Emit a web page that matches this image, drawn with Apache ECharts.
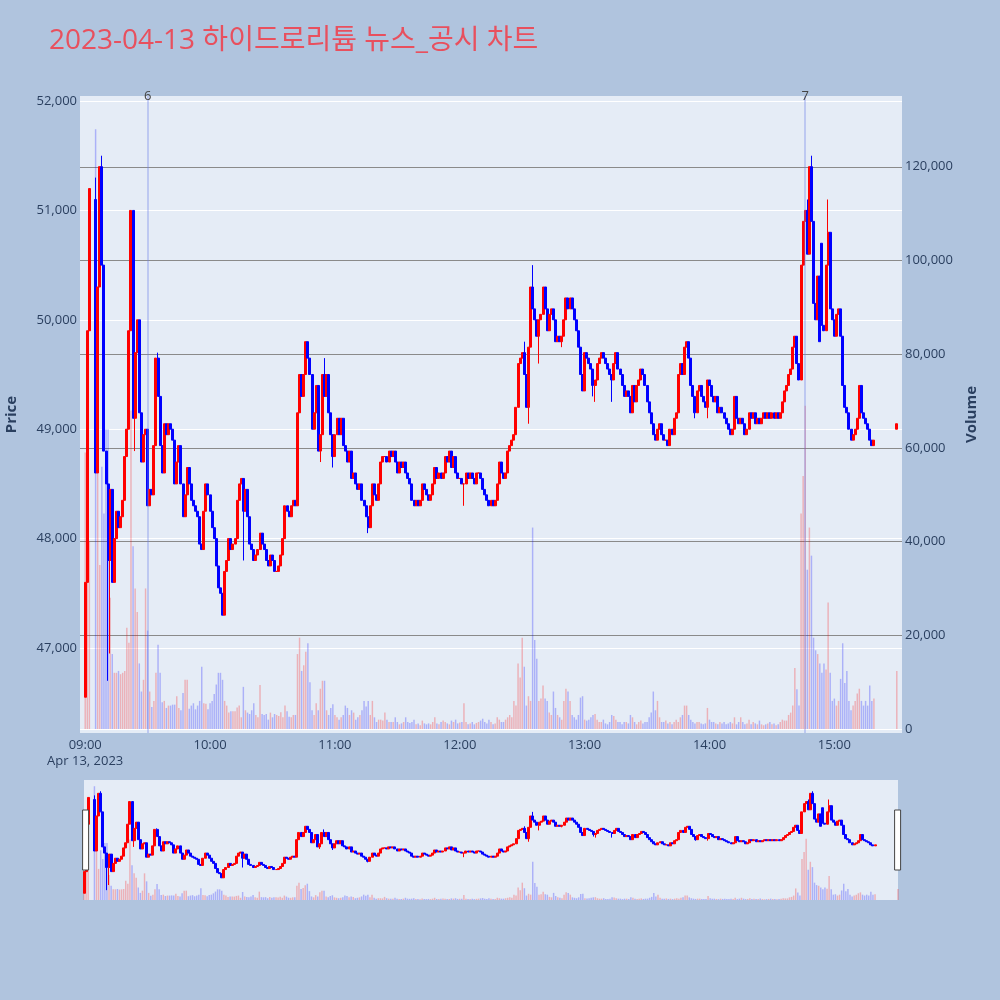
<!DOCTYPE html>
<html>
<head>
<meta charset="utf-8">
<script src="https://cdn.jsdelivr.net/npm/echarts@6/dist/echarts.min.js"></script>
<style>
html,body{margin:0;padding:0;background:#b0c4de;}
#chart{width:1000px;height:1000px;}
</style>
</head>
<body>
<div id="chart"></div>
<script>
// ---------------- DATA ----------------
const titleText = '2023-04-13 하이드로리튬 뉴스_공시 차트';
const dateLabel = 'Apr 13, 2023';
const hourLabels = ['09:00','10:00','11:00','12:00','13:00','14:00','15:00'];
const priceTicks = [47000,48000,49000,50000,51000,52000];
const volumeTicks = [0,20000,40000,60000,80000,100000,120000];
const newsTimes = ['09:30','14:46'];
const newsLabels = ['6','7'];
const sessionStart = '09:00';

// 1-minute closes from 09:00 (null = trading halt)
const closes = [
47600,49900,51200,null,null,48600,50300,51400,50500,48800,
48500,47800,48450,47600,48000,48250,48100,48200,48350,48750,
49000,49900,51000,49100,49700,50000,49150,48700,48950,49000,
48300,48450,48400,48850,49650,49300,48850,48600,49050,48950,
49050,49000,48900,48500,48700,48850,48500,48200,48400,48650,
48500,48350,48300,48250,48200,47950,47900,48250,48500,48400,
48250,48100,48000,47750,47550,47500,47300,47700,47800,48000,
47900,47950,48000,48350,48500,48550,48250,48450,48200,47950,
47900,47800,47850,47900,48050,47950,47900,47800,47750,47850,
47800,47700,47700,47750,47850,48000,48300,48250,48200,48300,
48350,48300,49150,49500,49300,49500,49800,49650,49500,49000,
49150,49400,48800,48950,49500,49300,49500,49150,48950,48750,
48950,49100,48950,49100,48850,48800,48700,48800,48550,48600,
48500,48450,48500,48350,48300,48200,48100,48300,48500,48400,
48350,48500,48700,48750,48750,48700,48800,48750,48800,48700,
48600,48700,48650,48700,48600,48550,48500,48350,48300,48350,
48300,48350,48500,48450,48400,48350,48400,48500,48650,48550,
48600,48550,48600,48750,48700,48800,48650,48750,48600,48550,
48550,48500,48500,48600,48550,48600,48550,48500,48600,48600,
48550,48450,48400,48350,48300,48350,48300,48350,48500,48700,
48600,48550,48600,48800,48850,48900,48950,49200,49600,49650,
49700,49500,49200,49750,50300,50100,50000,49850,50000,50050,
50300,50100,49900,50050,50100,50000,49800,49850,49800,49850,
50000,50200,50100,50200,50100,50000,49900,49750,49500,49350,
49700,49650,49600,49550,49400,49450,49600,49650,49700,49650,
49600,49550,49500,49450,49600,49700,49550,49500,49400,49300,
49350,49300,49150,49400,49250,49400,49450,49550,49500,49400,
49250,49150,49050,48950,48900,49000,49050,48950,48900,48900,
48850,49000,48950,49100,49150,49500,49600,49500,49750,49800,
49650,49400,49300,49150,49350,49400,49300,49250,49200,49450,
49400,49300,49250,49300,49150,49200,49150,49100,49050,49000,
48950,49000,49300,49100,49050,49100,49050,48950,49000,49150,
49100,49150,49050,49100,49050,49100,49150,49100,49150,49100,
49150,49100,49150,49100,49150,49250,49350,49400,49500,49550,
49750,49850,49600,49450,50500,50900,51000,50600,51400,50900,
50150,50000,50400,49800,49950,49900,50500,50800,50100,50000,
49850,50050,50100,49850,49400,49200,49150,49000,48900,48950,
49000,49100,49400,49150,49100,49050,49000,48900,48850,48900
];

// 1-minute volumes from 09:00
const volumes = [
59000,79000,40000,null,null,128000,79000,35000,56000,46000,
64000,64000,28000,16000,12000,12000,12400,11700,12000,12400,
21600,18400,68000,39000,30000,25000,14000,8000,10500,30000,
21000,8000,4700,6000,12000,18000,12000,5700,6000,4500,
5000,5000,5200,5200,7000,4500,4000,7700,10500,10500,
4300,5000,5500,4200,5000,6000,13300,5500,5400,4200,
5500,6000,7500,9500,12000,12000,10500,6000,5000,3500,
3800,3800,3800,4600,5000,2500,9000,4000,3500,3200,
4000,5500,3000,2500,9400,3200,3000,3200,2000,3500,
2500,3200,3000,2800,3600,2500,5000,3800,2600,2500,
3000,3000,16000,19500,12400,13600,16500,18300,10000,4000,
3000,5500,4000,8600,10300,10300,4000,3000,4500,5300,
3000,2500,2000,2500,3000,5000,4500,3000,4000,3500,
2000,2500,3000,4000,6000,4800,6000,3000,6000,2500,
1500,2000,2000,1800,3500,2000,1500,1500,1500,2500,
1500,1000,1200,1500,2500,1500,1300,1500,2000,1000,
1200,800,1800,1200,1000,1200,1000,1500,2500,1200,
1000,1500,1800,1500,1200,1000,1800,1500,2000,1200,
1400,1500,5500,1500,1000,1200,1500,1000,1300,1500,
1800,2200,1500,1200,2000,1500,1000,1200,2500,2000,
1500,1500,2000,2500,3000,2500,6000,5000,14000,11000,
19500,13300,5000,7000,6000,43000,19000,15000,6000,6500,
9300,6500,6000,3500,3000,8000,4500,3000,2500,2000,
6000,8600,8000,6000,3000,2500,2000,3000,6700,7000,
2000,1800,2000,2500,3000,3200,2000,1500,1500,2000,
1200,1000,1500,3000,2800,2000,1500,1500,1000,1500,
1500,1200,3000,2500,1500,1000,1500,1800,1200,1500,
1500,2500,3500,8000,4000,6000,2500,1500,1500,1800,
1200,1500,1000,1500,2000,1500,2500,3000,5000,5000,
3000,2000,1500,1200,1500,1500,1200,1000,1200,4500,
2000,1500,1500,1200,1000,1500,1200,1500,1000,1200,
1500,1200,2500,1000,1500,2500,1500,1000,1200,2000,
1000,1500,1200,1000,1800,1000,800,1000,1200,1500,
1000,1200,800,1000,1500,2000,1800,1800,3000,3500,
5000,13000,8500,5000,46000,54000,69000,34000,43000,37000,
19500,16800,16000,14000,12000,14000,12700,27000,12000,6000,
6500,5000,6000,10700,18300,9800,12400,6000,4000,5000,
6000,7600,8600,6000,5000,6000,5000,9300,6000,6500
];

// opens that differ from the previous close, and wick extremes [minute index, price]
const openFix = [[0,46550],[5,51100],[354,50700]];
const highFix = [[5,51300],[8,51500],[35,49700],[115,49650],[211,49800],[215,50500],[347,51100],[349,51500],[357,51100]];
const lowFix  = [[11,46700],[12,46950],[24,48800],[76,47800],[113,48700],[119,48650],[136,48050],[182,48300],[213,49050],[218,49600],[229,49750],[244,49300],[245,49250],[253,49250],[293,49100],[299,49100],[379,48850]];

// closing auction (15:30)
const auctionTime = '15:30';
const auctionOpen = 49000;
const auctionClose = 49050;
const auctionVolume = 12400;

// ---------------- BUILD ----------------
const UP = '#ff0000', DOWN = '#0000ff';
const UPV = 'rgba(255,0,0,0.25)', DOWNV = 'rgba(0,0,255,0.25)';
const FONT = '"Open Sans", "Noto Sans CJK KR", sans-serif';
const TXT = '#2a3f5f';

function hhmm(t){const h=Math.floor(t/60),m=t%60;return String(h).padStart(2,'0')+':'+String(m).padStart(2,'0');}
function toMin(s){const p=s.split(':');return (+p[0])*60+(+p[1]);}
const startMin = toMin(sessionStart);

const mainCats=[]; for(let t=toMin('08:58'); t<=toMin('15:32'); t++) mainCats.push(hhmm(t));
const miniCats=[]; for(let t=toMin('09:00'); t<=toMin('15:30'); t++) miniCats.push(hhmm(t));

const oMap=new Map(openFix), hMap=new Map(highFix), lMap=new Map(lowFix);
const rows = {};
let prev = null;
for (let k=0;k<closes.length;k++){
  const c = closes[k];
  if (c === null) continue;
  const o = oMap.has(k) ? oMap.get(k) : (prev===null ? c : prev);
  let h = Math.max(o,c), l = Math.min(o,c);
  if (hMap.has(k)) h = Math.max(h,hMap.get(k));
  if (lMap.has(k)) l = Math.min(l,lMap.get(k));
  rows[hhmm(startMin+k)] = {o, c, h, l, v: volumes[k]};
  prev = c;
}
rows[auctionTime] = {o:auctionOpen, c:auctionClose, h:Math.max(auctionOpen,auctionClose), l:Math.min(auctionOpen,auctionClose), v:auctionVolume};

function candleData(cats){
  return cats.map(t => rows[t] ? [rows[t].o, rows[t].c, rows[t].l, rows[t].h] : ['-','-','-','-']);
}
function volData(cats){
  return cats.map(t => rows[t] ? {value: rows[t].v, itemStyle:{color: rows[t].c >= rows[t].o ? UPV : DOWNV}} : '-');
}

const candleStyle = {color:UP, color0:DOWN, borderColor:UP, borderColor0:DOWN, borderColorDoji:UP, borderWidth:1};

const chart = echarts.init(document.getElementById('chart'));
const option = {
  backgroundColor:'#b0c4de',
  animation:false,
  title:{text:titleText, left:49, top:27, padding:0,
    textStyle:{color:'#e8505e', fontSize:28, fontWeight:'normal', fontFamily:FONT}},
  grid:[
    {left:80, right:98, top:96, bottom:267, show:true, backgroundColor:'#e5ecf6', borderWidth:0, outerBoundsMode:'none', containLabel:false},
    {left:84, right:102, top:780, height:120, show:true, backgroundColor:'#e5ecf6', borderWidth:0, outerBoundsMode:'none', containLabel:false}
  ],
  xAxis:[
    {type:'category', gridIndex:0, data:mainCats, boundaryGap:true,
     axisLine:{show:false}, axisTick:{show:false}, splitLine:{show:false},
     axisLabel:{interval:(i,v)=>hourLabels.includes(v),
       formatter:v=> v===hourLabels[0] ? v+'\n'+dateLabel : v,
       color:TXT, fontSize:13, lineHeight:16, margin:4, fontFamily:FONT}},
    {type:'category', gridIndex:1, data:miniCats, boundaryGap:false, show:false}
  ],
  yAxis:[
    {type:'value', gridIndex:0, position:'left', min:46223, max:52046,
     name:'Price', nameLocation:'middle', nameGap:61,
     nameTextStyle:{color:TXT, fontSize:15, fontWeight:'bold', fontFamily:FONT},
     axisLine:{show:false}, axisTick:{show:false, customValues:priceTicks},
     axisLabel:{customValues:priceTicks, formatter:v=>Number(v).toLocaleString('en-US'), color:TXT, fontSize:13, margin:3, fontFamily:FONT},
     splitLine:{show:true, lineStyle:{color:'#ffffff', width:1}}},
    {type:'value', gridIndex:0, position:'right', min:-850, max:135100,
     name:'Volume', nameLocation:'middle', nameGap:62, nameRotate:90,
     nameTextStyle:{color:TXT, fontSize:15, fontWeight:'bold', fontFamily:FONT},
     axisLine:{show:false}, axisTick:{show:false, customValues:volumeTicks},
     axisLabel:{customValues:volumeTicks, formatter:v=>Number(v).toLocaleString('en-US'), color:TXT, fontSize:13, margin:3, fontFamily:FONT},
     splitLine:{show:true, lineStyle:{color:['#ffffff','#8a8a8a','#8a8a8a','#8a8a8a','#8a8a8a','#8a8a8a','#8a8a8a'], width:1}}},
    {type:'value', gridIndex:1, min:46223, max:52046, show:false},
    {type:'value', gridIndex:1, min:0, max:135000, show:false}
  ],
  dataZoom:[{
    type:'slider', xAxisIndex:0, start:0, end:100,
    left:84, right:102, top:780, height:120,
    showDataShadow:false, showDetail:false, brushSelect:false,
    backgroundColor:'rgba(0,0,0,0)', fillerColor:'rgba(0,0,0,0)', borderColor:'rgba(0,0,0,0)',
    handleIcon:'path://M0,0 L10,0 L10,100 L0,100 Z', handleSize:'50%',
    handleStyle:{color:'#ffffff', borderColor:'#444444', borderWidth:1},
    moveHandleSize:0, moveHandleStyle:{opacity:0},
    emphasis:{handleStyle:{color:'#ffffff', borderColor:'#444444'}, moveHandleStyle:{opacity:0}},
    dataBackground:{lineStyle:{opacity:0}, areaStyle:{opacity:0}},
    selectedDataBackground:{lineStyle:{opacity:0}, areaStyle:{opacity:0}}
  }],
  series:[
    {type:'bar', name:'Volume', xAxisIndex:0, yAxisIndex:1, data:volData(mainCats), barWidth:'70%', z:1, silent:true},
    {type:'candlestick', name:'Price', xAxisIndex:0, yAxisIndex:0, data:candleData(mainCats), barWidth:2.5, z:3,
     itemStyle:candleStyle, silent:true,
     markLine:{symbol:['none','none'], silent:true, animation:false,
       lineStyle:{color:'rgba(110,130,230,0.45)', width:1.5, type:'solid'},
       label:{show:true, position:'end', formatter:p=>p.name, color:'#444444', fontSize:13, distance:-7, fontFamily:FONT},
       emphasis:{disabled:true},
       data:newsTimes.map((t,i)=>({name:newsLabels[i], xAxis:t}))}},
    {type:'bar', xAxisIndex:1, yAxisIndex:3, data:volData(miniCats), barWidth:'70%', z:1, silent:true},
    {type:'candlestick', xAxisIndex:1, yAxisIndex:2, data:candleData(miniCats), barWidth:2.5, z:3, itemStyle:candleStyle, silent:true}
  ]
};
chart.setOption(option);
</script>
</body>
</html>
